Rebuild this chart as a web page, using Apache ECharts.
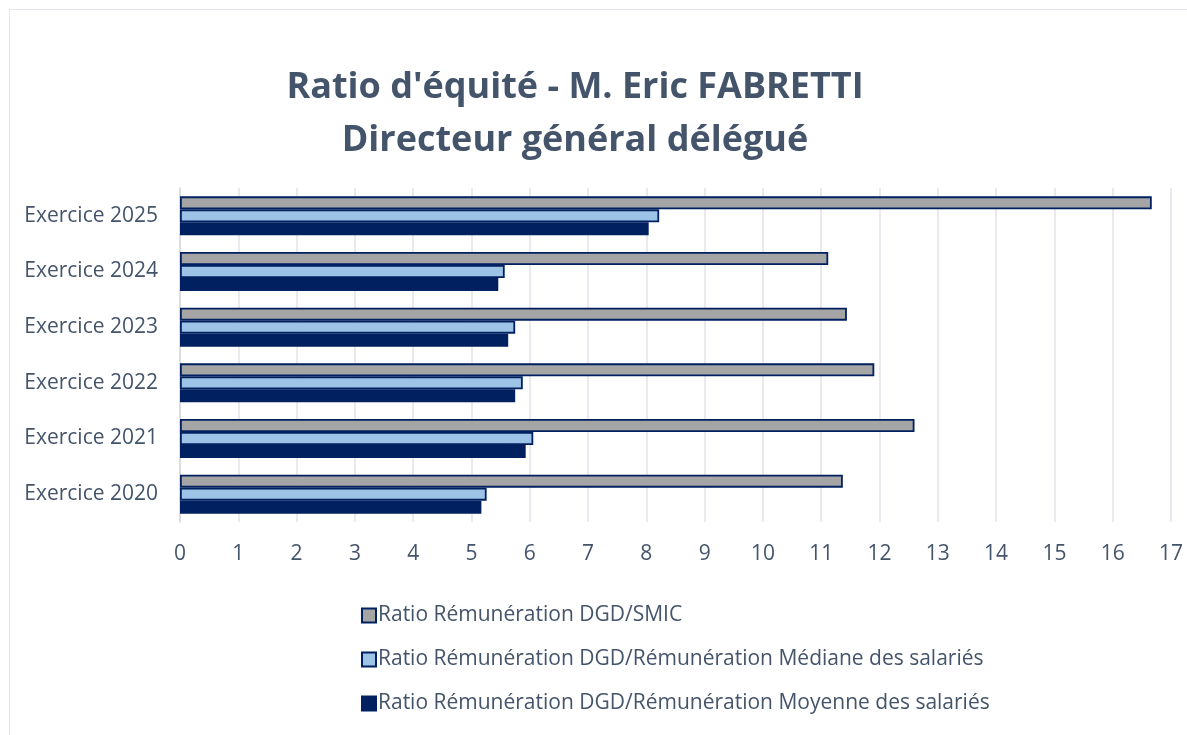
<!DOCTYPE html>
<html>
<head>
<meta charset="utf-8">
<script src="https://cdn.jsdelivr.net/npm/echarts@6/dist/echarts.min.js"></script>
<style>
  html, body { margin: 0; padding: 0; background: #fff; }
  #frame { position: absolute; left: 9px; top: 9px; width: 1200px; height: 760px; border: 1px solid #e3e6ea; box-sizing: border-box; }
  #chart { position: absolute; left: 0; top: 0; width: 1187px; height: 735px; }
</style>
</head>
<body>
<div id="frame"></div>
<div id="chart"></div>
<script>
// libellés et valeurs
const exercices = ['Exercice 2020', 'Exercice 2021', 'Exercice 2022', 'Exercice 2023', 'Exercice 2024', 'Exercice 2025'];
const ratioSmic = [11.37, 12.6, 11.91, 11.44, 11.12, 16.67];
const ratioMediane = [5.26, 6.06, 5.88, 5.75, 5.57, 8.22];
const ratioMoyenne = [5.17, 5.93, 5.75, 5.63, 5.46, 8.04];
const xTicks = [0, 17];

const nomSmic = 'Ratio Rémunération DGD/SMIC';
const nomMediane = 'Ratio Rémunération DGD/Rémunération Médiane des salariés';
const nomMoyenne = 'Ratio Rémunération DGD/Rémunération Moyenne des salariés';

const textColor = '#44546a';
const navy = '#002060';
const font = 'Open Sans';

const chart = echarts.init(document.getElementById('chart'));

const barStyle = (color) => ({
    color: color,
    borderColor: navy,
    borderWidth: 1.8
});

chart.setOption({
    animation: false,
    title: {
        text: "Ratio d'équité - M. Eric FABRETTI\nDirecteur général délégué",
        left: 570,
        top: 56,
        textAlign: 'center',
        textStyle: {
            fontFamily: font,
            fontWeight: 'bold',
            fontSize: 36,
            lineHeight: 53,
            color: textColor
        }
    },
    legend: {
        orient: 'vertical',
        left: 356,
        top: 600,
        itemWidth: 14,
        itemHeight: 14,
        itemGap: 23,
        icon: 'rect',
        data: [nomSmic, nomMediane, nomMoyenne],
        textStyle: { fontFamily: font, fontSize: 21, color: textColor, padding: [0, 0, 0, -3] }
    },
    grid: { left: 180, right: 16, top: 188, bottom: 213 },
    xAxis: {
        type: 'value',
        min: xTicks[0],
        max: xTicks[1],
        interval: 1,
        axisLine: { show: false },
        axisTick: { show: false },
        splitLine: { lineStyle: { color: '#dfe3e9', width: 1.5 } },
        axisLabel: { fontFamily: font, fontSize: 21, color: textColor, margin: 22 }
    },
    yAxis: {
        type: 'category',
        data: exercices,
        axisLine: { lineStyle: { color: '#d9d9d9', width: 1.5 } },
        axisTick: { length: 8, lineStyle: { color: '#d9d9d9', width: 1.5 } },
        axisLabel: { fontFamily: font, fontSize: 21, color: textColor, margin: 22 }
    },
    series: [
        {
            name: nomSmic,
            type: 'bar',
            data: ratioSmic,
            barGap: '0%',
            barCategoryGap: '30%',
            itemStyle: barStyle('#a5a5a5')
        },
        {
            name: nomMediane,
            type: 'bar',
            data: ratioMediane,
            itemStyle: barStyle('#9dc3e6')
        },
        {
            name: nomMoyenne,
            type: 'bar',
            data: ratioMoyenne,
            itemStyle: barStyle(navy)
        }
    ]
});
</script>
</body>
</html>
